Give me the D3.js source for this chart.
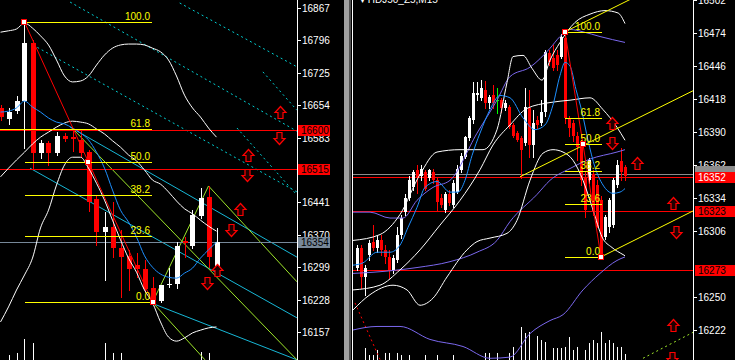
<!DOCTYPE html>
<html>
<head>
<meta charset="utf-8">
<title>HDJ50 M15</title>
<script src="https://cdn.jsdelivr.net/npm/d3@7/dist/d3.min.js"></script>
<style>
  html, body { margin: 0; padding: 0; background: #000; overflow: hidden; }
  svg { display: block; font-family: 'Liberation Sans', Arial, sans-serif; }
</style>
</head>
<body>
<div id="chart"></div>
<script>
// ---------- left window ----------
// [open, high, low, close]
const leftOhlc = [
  [16648, 16654, 16622, 16628], [16624, 16648, 16613, 16639], [16641, 16674, 16637, 16663],
  [16663, 16836, 16560, 16790], [16790, 16797, 16516, 16549], [16549, 16578, 16538, 16571],
  [16571, 16576, 16523, 16549], [16549, 16595, 16545, 16586], [16586, 16593, 16576, 16580],
  [16584, 16602, 16554, 16580], [16578, 16600, 16540, 16549], [16551, 16556, 16422, 16442],
  [16448, 16457, 16348, 16376], [16376, 16420, 16271, 16387], [16387, 16442, 16321, 16341],
  [16341, 16380, 16234, 16321], [16324, 16337, 16249, 16295], [16304, 16330, 16277, 16295],
  [16295, 16315, 16245, 16252], [16254, 16277, 16220, 16222], [16225, 16260, 16222, 16260],
  [16260, 16297, 16256, 16262], [16262, 16354, 16254, 16346], [16356, 16365, 16321, 16352],
  [16346, 16424, 16341, 16413], [16411, 16473, 16407, 16451], [16453, 16477, 16299, 16321],
  [16302, 16385, 16293, 16354]
];
const leftVolume = [0, 83, 117, 350, 283, 0, 0, 0, 0, 0, 0, 0, 0, 283, 117, 117, 0, 0, 0, 0, 0, 0, 0, 0, 0, 133, 117, 0];
const leftBandUp = [16814, 16817, 16821, 16834, 16823, 16806, 16786, 16753, 16718, 16705, 16707, 16718, 16742, 16764,
  16779, 16786, 16788, 16788, 16786, 16779, 16771, 16753, 16718, 16676, 16648, 16628, 16604, 16584];
const leftBandMid = [16497, 16516, 16534, 16551, 16569, 16584, 16595, 16606, 16615, 16619, 16617, 16613, 16602, 16591,
  16576, 16562, 16545, 16532, 16512, 16490, 16481, 16464, 16444, 16427, 16416, 16402, 16389, 16378];
const leftBandLow = [16179, 16212, 16249, 16282, 16319, 16385, 16424, 16479, 16523, 16540, 16540, 16516, 16483, 16446,
  16402, 16359, 16319, 16288, 16249, 16221, 16179, 16146, 16137, 16144, 16155, 16161, 16166, 16168];
const leftMa = [16639, 16641, 16648, 16663, 16650, 16639, 16626, 16617, 16613, 16604, 16593, 16578, 16551, 16516,
  16468, 16424, 16398, 16365, 16324, 16299, 16284, 16277, 16275, 16286, 16297, 16319, 16337, 16354];
// 16512 sits under the 16515 price box and is not visible
const leftTicks = [16867, 16796, 16725, 16654, 16583, 16441, 16370, 16299, 16228, 16157];
const leftRedLevels = [16600, 16515];
const leftFibAnchors = [[3, 16836], [19, 16222]];
const leftFibStart = [3, -0.06, 3, 3, 3, 3];
const leftFibEnd = 18.94;
const leftFibMidBar = 10.97;
const leftCyanDots = [
  [[8.7, 16880], [37.06, 16597]], [[22.4, 16878], [37.06, 16738]], [[4.06, 16786], [37.06, 16464]],
  [[32.8, 16727], [37.06, 16643]], [[29.56, 16604], [37.06, 16457]]
];
const leftCyanLines = [
  [[8.7, 16606], [37.06, 16321]], [[3.69, 16516], [37.06, 16188]], [[18.94, 16220], [37.06, 16096]]
];
const leftGreenLines = [
  [[8.94, 16604], [37.06, 16096]], [[19, 16222], [25.56, 16096]], [[19, 16222], [26, 16477]],
  [[26, 16477], [37.06, 16267]]
];
const leftArrows = [
  [34.94, 16639, 'up'], [34.81, 16582, 'down'], [30.94, 16545, 'up'], [30.81, 16501, 'down'],
  [29.94, 16427, 'up'], [28.81, 16380, 'down'], [27.06, 16293, 'up'], [25.81, 16264, 'down']
];

// ---------- right window ----------
const rightOhlc = [
  [16275, 16294, 16273, 16292], [16292, 16294, 16258, 16267], [16267, 16277, 16252, 16275], [16286, 16298, 16281, 16296],
  [16297, 16311, 16290, 16292], [16292, 16302, 16288, 16298], [16298, 16303, 16286, 16290], [16290, 16294, 16279, 16284],
  [16284, 16290, 16266, 16272], [16273, 16286, 16270, 16283], [16281, 16309, 16280, 16303], [16303, 16320, 16300, 16317],
  [16322, 16337, 16320, 16334], [16334, 16353, 16332, 16349], [16343, 16358, 16341, 16356], [16358, 16362, 16338, 16351],
  [16353, 16362, 16349, 16359], [16356, 16358, 16341, 16342], [16351, 16359, 16349, 16358], [16356, 16359, 16347, 16349],
  [16349, 16351, 16324, 16331], [16334, 16337, 16326, 16328], [16324, 16339, 16322, 16337], [16337, 16341, 16328, 16330],
  [16328, 16349, 16326, 16347], [16339, 16362, 16338, 16359], [16358, 16372, 16356, 16370], [16369, 16387, 16368, 16386],
  [16385, 16404, 16383, 16402], [16400, 16432, 16398, 16423], [16421, 16432, 16417, 16423], [16419, 16434, 16417, 16427],
  [16426, 16433, 16410, 16415], [16415, 16421, 16410, 16420], [16421, 16430, 16410, 16415], [16417, 16427, 16406, 16417],
  [16417, 16419, 16407, 16410], [16410, 16417, 16409, 16415], [16411, 16413, 16393, 16394], [16396, 16398, 16386, 16387],
  [16389, 16391, 16382, 16383], [16385, 16387, 16351, 16375], [16381, 16427, 16379, 16411], [16410, 16426, 16369, 16379],
  [16379, 16409, 16369, 16398], [16400, 16404, 16393, 16396], [16398, 16417, 16396, 16407], [16407, 16460, 16404, 16458],
  [16457, 16460, 16447, 16449], [16453, 16464, 16443, 16444], [16455, 16460, 16443, 16447], [16454, 16473, 16453, 16471],
  [16470, 16475, 16398, 16402], [16402, 16404, 16387, 16393], [16398, 16400, 16382, 16387], [16387, 16390, 16366, 16377],
  [16379, 16383, 16345, 16349], [16351, 16356, 16318, 16324], [16349, 16368, 16347, 16366], [16354, 16358, 16320, 16322],
  [16345, 16349, 16309, 16309], [16332, 16336, 16284, 16286], [16301, 16320, 16299, 16318], [16309, 16334, 16305, 16332],
  [16311, 16351, 16309, 16349], [16345, 16366, 16343, 16362], [16365, 16376, 16349, 16356], [16360, 16362, 16349, 16353]
];
const rightDojiBars = [35];
const rightVolume = [
  0, 0, 200, 83, 83, 167, 0, 117, 117, 0,
  117, 83, 0, 83, 0, 0, 0, 83, 0, 0,
  83, 0, 0, 0, 83, 0, 0, 0, 0, 0,
  0, 0, 117, 117, 0, 117, 0, 0, 117, 217,
  0, 550, 450, 467, 0, 400, 333, 300, 0, 200,
  200, 200, 217, 383, 167, 217, 0, 167, 283, 333,
  283, 467, 283, 333, 283, 217, 217, 100
];
// [bar, price]
const rightSlowUp = [[-1, 16322], [3.25, 16322], [8.25, 16317], [11.5, 16317], [15, 16332], [19, 16343], [23.25, 16349],
  [30, 16389], [35, 16417], [38.25, 16437], [43.25, 16445], [48.25, 16461], [50.75, 16471], [53.25, 16477],
  [56.5, 16475], [60.75, 16471], [67, 16466]];
const rightSlowMid = [[-1, 16270], [4, 16271], [15, 16275], [23.25, 16280], [30, 16288], [35, 16298], [38.25, 16314],
  [45, 16337], [48.25, 16349], [53.25, 16359], [58.25, 16367], [65, 16373], [67, 16375]];
const rightSlowLow = [[-1, 16222], [5, 16225], [10.75, 16225], [18.25, 16214], [26.5, 16208], [33.25, 16198],
  [38.25, 16199], [43.25, 16219], [48.25, 16230], [51.5, 16235], [56.5, 16256], [60.75, 16270], [65, 16281], [67, 16284]];
const rightBandUp = [[-1, 16298], [5.75, 16303], [10.75, 16320], [15.75, 16354], [20, 16373], [25.75, 16375],
  [31.5, 16375], [35, 16392], [37.5, 16432], [39, 16454], [41.5, 16455], [43.75, 16444], [46.25, 16434], [48.25, 16451],
  [50.75, 16466], [54.5, 16483], [58.25, 16490], [62, 16493], [65.25, 16491], [67, 16482]];
const rightBandMid = [[-1, 16256], [5.75, 16260], [10.75, 16273], [15.75, 16290], [20.75, 16311], [25.75, 16332],
  [30.75, 16358], [34, 16379], [38.25, 16396], [42.5, 16410], [48.25, 16415], [53.25, 16417], [58.25, 16419],
  [61.5, 16409], [65, 16394], [67, 16383]];
const rightBandLow = [[-1, 16239], [3.25, 16252], [9, 16260], [12.5, 16256], [15.75, 16243], [19, 16249], [22.5, 16267],
  [27.5, 16290], [30, 16297], [33.25, 16300], [37.5, 16304], [40, 16315], [43.25, 16349], [46.5, 16372], [49, 16375],
  [51.5, 16373], [54, 16366], [56.5, 16349], [59, 16324], [61.25, 16301], [63.75, 16292], [66.5, 16286], [67, 16285]];
const rightMa = [[-1, 16277], [1.5, 16279], [5, 16288], [8.25, 16288], [10.75, 16294], [12.75, 16309], [15, 16326],
  [17, 16343], [20, 16348], [23.25, 16339], [25.25, 16339], [27, 16349], [28.75, 16370], [30.75, 16389], [33.25, 16409],
  [35.75, 16421], [38.25, 16419], [41.5, 16402], [44.5, 16392], [47, 16396], [49, 16413], [50.75, 16438], [52, 16449],
  [53.25, 16446], [54.75, 16426], [56.25, 16407], [57.75, 16383], [59.5, 16360], [61.5, 16345], [64, 16338],
  [65.75, 16339], [67, 16342]];
// 16278 sits under the 16273 price box and is not visible
const rightTicks = [16502, 16474, 16446, 16418, 16390, 16362, 16334, 16306, 16250, 16222];
const rightRedLevels = [16352, 16323, 16273];
const rightFibAnchors = [[52, 16475], [61, 16284]];
const rightFibStart = [52, 52, 52, 52, 52, 52];
const rightFibEnd = 61.25;
const rightFibMidBar = 56.5;
const rightYellowLines = [
  [[52, 16475], [84, 16529]], [[40.75, 16352], [84, 16425]], [[61, 16284], [84, 16323]]
];
const rightRedDots = [[-0.5, 16245], [5.75, 16197]];
const rightGreenDots = [[71.5, 16198], [84, 16220]];
const rightArrows = [
  [63.75, 16398, 'up'], [63.75, 16381, 'down'], [70, 16364, 'up'], [79, 16330, 'up'],
  [79.75, 16305, 'down'], [79, 16226, 'up'], [78.75, 16198, 'down']
];

const bidPrice = 16354;
const fibRatios = [100, 61.8, 50, 38.2, 23.6, 0];
const symbolTitle = 'HDJ50_Z5,M15';

// ---------- drawing ----------
const width = 735, height = 360;

const svg = d3.select('#chart')
    .append('svg')
    .attr('width', width)
    .attr('height', height)
    .style('background', '#000');

const defs = svg.append('defs');
defs.append('clipPath').attr('id', 'clipL')
    .append('rect').attr('x', 0).attr('y', 0).attr('width', 297).attr('height', height);
defs.append('clipPath').attr('id', 'clipR')
    .append('rect').attr('x', 353).attr('y', 0).attr('width', 340).attr('height', height);

const xL = d3.scaleLinear().domain([0, 37.0625]).range([0.5, 297]);
const yL = d3.scaleLinear().domain([16157, 16867]).range([332, 8]);
const xR = d3.scaleLinear().domain([-1, 84]).range([353, 693]);
const yR = d3.scaleLinear().domain([16222, 16474]).range([330, 33]);
const yVol = d3.scaleLinear().domain([0, 1000]).range([height, 300]);

const crisp = v => Math.round(v) + 0.5;

const arrowPath = {
  up: 'M-2.5,6V0H-5.5L0,-6L5.5,0H2.5V6Z',
  down: 'M-2.5,-6V0H-5.5L0,6L5.5,0H2.5V-6Z'
};

function drawVolume(g, x, data) {
  g.append('g')
      .selectAll('line')
      .data(data)
      .join('line')
      .attr('x1', (d, i) => crisp(x(i)))
      .attr('x2', (d, i) => crisp(x(i)))
      .attr('y1', height)
      .attr('y2', d => yVol(d))
      .attr('stroke', '#ffffff')
      .attr('stroke-width', 1);
}

function drawCandles(g, x, y, data, bodyW, marked) {
  const color = (d, i) => marked.includes(i) ? '#00ff00' : (d[3] >= d[0] ? '#ffffff' : '#ff0000');
  const cg = g.append('g').attr('shape-rendering', 'crispEdges');
  cg.selectAll('line')
      .data(data)
      .join('line')
      .attr('x1', (d, i) => Math.round(x(i)) + 0.5)
      .attr('x2', (d, i) => Math.round(x(i)) + 0.5)
      .attr('y1', d => Math.round(y(d[1])))
      .attr('y2', d => Math.round(y(d[2])) + 1)
      .attr('stroke', color);
  cg.selectAll('rect')
      .data(data)
      .join('rect')
      .attr('x', (d, i) => Math.round(x(i)) - Math.floor(bodyW / 2))
      .attr('width', bodyW)
      .attr('y', d => Math.round(y(Math.max(d[0], d[3]))))
      .attr('height', d => Math.max(1, Math.round(y(Math.min(d[0], d[3]))) - Math.round(y(Math.max(d[0], d[3])))))
      .attr('fill', color);
}

function drawSeries(g, x, y, values, color) {
  const line = d3.line()
      .x((d, i) => x(i))
      .y(d => y(d))
      .curve(d3.curveMonotoneX);
  g.append('path')
      .attr('d', line(values))
      .attr('fill', 'none')
      .attr('stroke', color)
      .attr('stroke-width', 1);
}

function drawPairs(g, x, y, points, color, dash, curved) {
  const line = d3.line()
      .x(d => x(d[0]))
      .y(d => y(d[1]));
  if (curved) line.curve(d3.curveMonotoneX);
  g.append('path')
      .attr('d', line(points))
      .attr('fill', 'none')
      .attr('stroke', color)
      .attr('stroke-width', 1)
      .attr('stroke-dasharray', dash || null);
}

function drawHLine(g, x0, x1, yPos, color) {
  g.append('line')
      .attr('x1', x0).attr('x2', x1)
      .attr('y1', crisp(yPos)).attr('y2', crisp(yPos))
      .attr('stroke', color)
      .attr('shape-rendering', 'crispEdges');
}

function drawFib(g, x, y, anchors, starts, end, midBar) {
  const hi = anchors[0][1], lo = anchors[1][1];
  fibRatios.forEach((r, i) => {
    const p = lo + (hi - lo) * r / 100;
    drawHLine(g, x(starts[i]), x(end), y(p), '#ffff00');
    g.append('text')
        .attr('x', x(end) - 2)
        .attr('y', Math.round(y(p)) - 2)
        .attr('text-anchor', 'end')
        .attr('fill', '#ffff00')
        .style('font-size', '10px')
        .text(r.toFixed(1));
  });
  const squares = [anchors[0], [midBar, (hi + lo) / 2], anchors[1]];
  g.selectAll('.fibsq')
      .data(squares)
      .join('rect')
      .attr('class', 'fibsq')
      .attr('x', d => Math.round(x(d[0])) - 2.5)
      .attr('y', d => Math.round(y(d[1])) - 2.5)
      .attr('width', 5)
      .attr('height', 5)
      .attr('fill', '#ffffff')
      .attr('stroke', '#ff0000');
}

function drawArrows(g, x, y, arrows) {
  g.selectAll('.arrow')
      .data(arrows)
      .join('path')
      .attr('class', 'arrow')
      .attr('transform', d => `translate(${crisp(x(d[0]))},${crisp(y(d[1]))})`)
      .attr('d', d => arrowPath[d[2]])
      .attr('fill', '#200000')
      .attr('stroke', '#ff0000')
      .attr('stroke-width', 1.2);
}

function drawAxis(axisX, y, ticks) {
  svg.append('line')
      .attr('x1', axisX + 0.5).attr('x2', axisX + 0.5)
      .attr('y1', 0).attr('y2', height)
      .attr('stroke', '#ffffff')
      .attr('shape-rendering', 'crispEdges');
  const t = svg.append('g');
  t.selectAll('line')
      .data(ticks)
      .join('line')
      .attr('x1', axisX).attr('x2', axisX + 4)
      .attr('y1', d => crisp(y(d))).attr('y2', d => crisp(y(d)))
      .attr('stroke', '#ffffff')
      .attr('shape-rendering', 'crispEdges');
  t.selectAll('text')
      .data(ticks)
      .join('text')
      .attr('x', axisX + 5)
      .attr('y', d => Math.round(y(d)))
      .attr('dy', '0.36em')
      .attr('fill', '#ffffff')
      .style('font-size', '10px')
      .text(d => d);
}

function priceBox(x0, w, yPos, price, fill, textColor) {
  const yc = Math.round(yPos);
  svg.append('rect')
      .attr('x', x0).attr('y', yc - 5)
      .attr('width', w).attr('height', 11)
      .attr('fill', fill);
  if (price === null) return;
  svg.append('text')
      .attr('x', x0 + 3)
      .attr('y', yc)
      .attr('dy', '0.36em')
      .attr('fill', textColor)
      .style('font-size', '10px')
      .text(price);
}

// left window
const gl = svg.append('g').attr('clip-path', 'url(#clipL)');
drawVolume(gl, xL, leftVolume);
leftCyanDots.forEach(l => drawPairs(gl, xL, yL, l, '#00ced1', '2,3'));
leftCyanLines.forEach(l => drawPairs(gl, xL, yL, l, '#17b7d6'));
leftGreenLines.forEach(l => drawPairs(gl, xL, yL, l, '#9ee62a'));
leftRedLevels.forEach(p => drawHLine(gl, 0, 297, yL(p), '#ff0000'));
drawHLine(gl, 0, 297, yL(bidPrice), '#778899');
drawCandles(gl, xL, yL, leftOhlc, 5, []);
drawSeries(gl, xL, yL, leftBandUp, '#ffffff');
drawSeries(gl, xL, yL, leftBandMid, '#ffffff');
drawSeries(gl, xL, yL, leftBandLow, '#ffffff');
drawSeries(gl, xL, yL, leftMa, '#1e90ff');
drawPairs(gl, xL, yL, leftFibAnchors, '#ff0000');
drawFib(gl, xL, yL, leftFibAnchors, leftFibStart, leftFibEnd, leftFibMidBar);
drawArrows(gl, xL, yL, leftArrows);

// right window
const gr = svg.append('g').attr('clip-path', 'url(#clipR)');
drawVolume(gr, xR, rightVolume);
drawPairs(gr, xR, yR, rightRedDots, '#ff0000', '2,3');
drawPairs(gr, xR, yR, rightGreenDots, '#9ee62a', '2,3');
rightRedLevels.forEach(p => drawHLine(gr, 353, 693, yR(p), '#ff0000'));
drawHLine(gr, 353, 693, yR(bidPrice), '#8c8c8c');
drawCandles(gr, xR, yR, rightOhlc, 3, rightDojiBars);
drawPairs(gr, xR, yR, rightSlowUp, '#7b68ee', null, true);
drawPairs(gr, xR, yR, rightSlowMid, '#7b68ee', null, true);
drawPairs(gr, xR, yR, rightSlowLow, '#7b68ee', null, true);
drawPairs(gr, xR, yR, rightBandUp, '#ffffff', null, true);
drawPairs(gr, xR, yR, rightBandMid, '#ffffff', null, true);
drawPairs(gr, xR, yR, rightBandLow, '#ffffff', null, true);
drawPairs(gr, xR, yR, rightMa, '#1e90ff', null, true);
rightYellowLines.forEach(l => drawPairs(gr, xR, yR, l, '#ffff00'));
drawPairs(gr, xR, yR, rightFibAnchors, '#ff0000');
drawFib(gr, xR, yR, rightFibAnchors, rightFibStart, rightFibEnd, rightFibMidBar);
drawArrows(gr, xR, yR, rightArrows);

// axes and price labels
drawAxis(297, yL, leftTicks);
drawAxis(693, yR, rightTicks);
leftRedLevels.forEach(p => priceBox(298, 32, yL(p), p, '#ff0000', '#000000'));
priceBox(298, 32, yL(bidPrice), bidPrice, '#778899', '#000000');
// bid box on the right is mostly hidden behind the 16352 box
priceBox(695, 40, yR(bidPrice) - 3, null, '#8c8c8c', '#000000');
rightRedLevels.forEach((p, i) => priceBox(695, 40, yR(p), p, '#ff0000', i === 0 ? '#ffffff' : '#000000'));

// window separator
svg.append('rect').attr('x', 344).attr('y', 0).attr('width', 5).attr('height', height).attr('fill', '#a0a0a0');
svg.append('rect').attr('x', 349).attr('y', 0).attr('width', 2).attr('height', height).attr('fill', '#505050');
svg.append('line')
    .attr('x1', 352.5).attr('x2', 352.5)
    .attr('y1', 0).attr('y2', height)
    .attr('stroke', '#ffffff');

svg.append('text')
    .attr('x', 360)
    .attr('y', 3)
    .attr('fill', '#ffffff')
    .style('font-size', '10px')
    .text('\u25BE ' + symbolTitle);
</script>
</body>
</html>
